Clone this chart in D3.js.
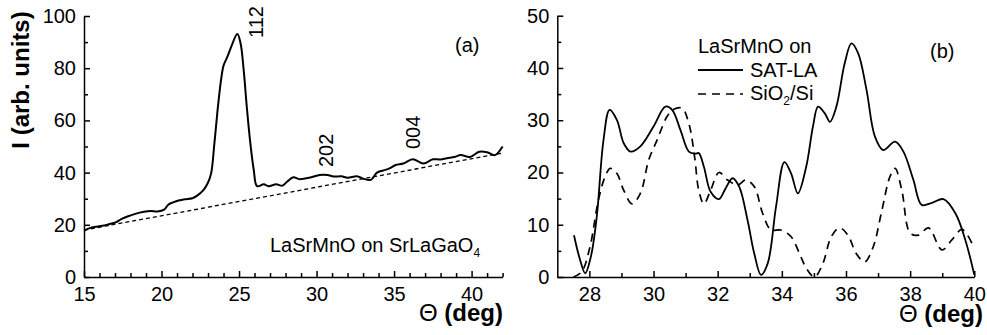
<!DOCTYPE html>
<html>
<head>
<meta charset="utf-8">
<script src="https://cdn.jsdelivr.net/npm/d3@7"></script>
<style>
  body { margin: 0; background: #fff; }
  svg { display: block; font-family: "Liberation Sans", Arial, sans-serif; }
  .axis path, .axis line { stroke: #000; stroke-width: 1.5; }
  .axis text { font-size: 20px; fill: #000; }
</style>
</head>
<body>
<svg id="chart" width="987" height="335"></svg>
<script>
// panel (a): LaSrMnO on SrLaGaO4
const thetaA = [15.0, 15.5, 16.18, 16.6, 17.04, 17.4, 17.8, 18.3, 18.87, 19.3, 19.74, 20.17, 20.45, 20.7, 21.1, 21.5,
  21.99, 22.3, 22.7, 22.98, 23.2, 23.41, 23.6, 23.84, 24.0, 24.25, 24.5, 24.89, 25.1, 25.3, 25.5, 25.73,
  25.95, 26.16, 26.6, 26.9, 27.4, 27.8, 28.1, 28.5, 28.9, 29.6, 30.2, 30.7, 31.1, 31.6, 32.0, 32.6,
  33.0, 33.5, 33.9, 34.3, 34.7, 35.1, 35.6, 36.2, 36.9, 37.5, 38.0, 38.4, 38.9, 39.3, 39.9, 40.5,
  41.0, 41.5, 42.0];
const intensA = [17.8, 19.0, 19.6, 20.2, 20.9, 22.2, 23.2, 24.2, 25.0, 25.3, 25.1, 25.8, 27.8, 28.5, 29.3, 29.8,
  30.2, 31.2, 33.3, 35.9, 39.7, 51.2, 63.0, 75.5, 81.0, 84.4, 88.3, 93.1, 89.5, 79.3, 65.2, 51.2,
  41.0, 34.8, 35.5, 34.8, 35.5, 35.0, 36.5, 38.2, 37.5, 38.1, 39.1, 39.1, 38.5, 38.6, 38.0, 38.6,
  37.7, 37.2, 40.0, 40.8, 41.6, 42.9, 43.5, 45.1, 43.5, 45.1, 45.0, 45.5, 46.0, 46.7, 46.0, 48.0,
  47.8, 46.7, 50.0];
// substrate background (dashed straight line)
const baseTheta = [15, 42];
const baseIntens = [18, 47.5];
const peakLabels = ["112", "202", "004"];

// panel (b): LaSrMnO on SAT-LA and on SiO2/Si
const thetaSat = [27.52, 27.7, 27.87, 28.05, 28.23, 28.44, 28.63, 28.86, 29.07, 29.28, 29.59, 30.0, 30.37, 30.58,
  30.84, 31.1, 31.3, 31.41, 31.57, 31.78, 32.04, 32.25, 32.46, 32.67, 32.93, 33.14, 33.35, 33.56,
  33.82, 34.08, 34.29, 34.5, 34.76, 34.97, 35.13, 35.34, 35.5, 35.7, 35.96, 36.17, 36.38, 36.64,
  36.9, 37.16, 37.53, 37.79, 38.1, 38.36, 38.68, 39.04, 39.41, 39.72, 40.0];
const intensSat = [8.0, 3.5, 0.7, 4.0, 11.5, 26.2, 32.0, 30.0, 25.6, 24.0, 25.0, 28.8, 32.6, 32.0,
  28.1, 24.0, 23.6, 23.7, 21.1, 16.3, 14.9, 17.0, 18.9, 17.3, 10.9, 4.5, 0.4, 2.6,
  13.5, 22.0, 19.8, 16.0, 21.1, 28.8, 32.6, 31.3, 29.7, 32.6, 40.9, 44.7, 42.8, 35.8,
  26.9, 24.3, 25.9, 24.0, 18.6, 13.8, 14.2, 14.9, 12.2, 7.1, 0.4];
const thetaSi = [27.5, 27.76, 28.02, 28.28, 28.49, 28.65, 28.86, 29.07, 29.33, 29.59, 29.85, 30.11, 30.42, 30.6,
  30.89, 31.1, 31.28, 31.41, 31.57, 31.78, 32.04, 32.3, 32.62, 32.88, 33.14, 33.4, 33.66, 33.97,
  34.29, 34.55, 34.76, 35.02, 35.28, 35.54, 35.8, 36.06, 36.32, 36.58, 36.85, 37.1, 37.37, 37.53,
  37.74, 38.0, 38.26, 38.57, 38.99, 39.3, 39.62, 40.0];
const intensSi = [0.0, 1.0, 5.8, 14.7, 19.2, 20.8, 19.8, 16.6, 14.0, 16.0, 22.4, 26.2, 30.7, 32.0,
  32.3, 29.4, 23.0, 16.6, 14.0, 16.6, 20.0, 18.6, 17.6, 18.6, 17.3, 12.2, 9.0, 9.0,
  7.7, 4.5, 1.7, 0.0, 2.6, 7.7, 9.4, 8.0, 4.5, 2.9, 5.8, 12.2, 19.2, 20.8,
  16.6, 8.4, 8.0, 9.4, 5.2, 7.1, 9.1, 5.5];
const legendTitle = "LaSrMnO on";
const legendNames = ["SAT-LA", "SiO2/Si"];

const svg = d3.select("#chart");
const zip = (xs, ys) => xs.map((x, i) => [x, ys[i]]);

function drawAxes(x, y, xMajor, xMinor, yMajor, yMinor) {
  const yAx = svg.append("g").attr("class", "axis").attr("transform", `translate(${x.range()[0]},0)`);
  yAx.call(d3.axisLeft(y).tickValues(yMinor).tickSize(-4).tickFormat(""));
  yAx.call(g => g.append("g").call(d3.axisLeft(y).tickValues(yMajor).tickSize(-6).tickPadding(8)));
  const xAx = svg.append("g").attr("class", "axis").attr("transform", `translate(0,${y.range()[0]})`);
  xAx.call(d3.axisBottom(x).tickValues(xMinor).tickSize(-4).tickFormat(""));
  xAx.call(g => g.append("g").call(d3.axisBottom(x).tickValues(xMajor).tickSize(-6).tickPadding(10)));
  svg.selectAll(".axis path.domain").attr("d", function() { return d3.select(this).attr("d").replace(/V-?\d+(\.\d+)?/g, ""); });
  svg.selectAll(".axis .domain").each(function() {
    const p = d3.select(this);
    p.attr("d", p.attr("d").replace(/^M([-\d.]+),([-\d.]+)H/, "M$1,0H"));
  });
}

function thetaLabel(xRight, yBase) {
  const t = svg.append("text").attr("x", xRight).attr("y", yBase)
    .attr("text-anchor", "end").attr("font-size", 24);
  t.append("tspan").text("Θ ");
  t.append("tspan").attr("font-weight", "bold").text("(deg)");
}

// ---------- panel (a)
const xA = d3.scaleLinear().domain([15, 42]).range([84, 502.6]);
const yA = d3.scaleLinear().domain([0, 100]).range([277, 16]);

svg.append("g").attr("class", "axis").attr("transform", "translate(84,0)")
  .call(d3.axisLeft(yA).tickValues(d3.range(10, 100, 20)).tickSize(-4).tickFormat(""))
  .call(g => g.select(".domain").remove());
svg.append("g").attr("class", "axis").attr("transform", "translate(84,0)")
  .call(d3.axisLeft(yA).tickValues(d3.range(0, 101, 20)).tickSize(-6).tickSizeOuter(0).tickPadding(8));
svg.append("g").attr("class", "axis").attr("transform", "translate(0,277)")
  .call(d3.axisBottom(xA).tickValues(d3.range(15, 43, 1).filter(v => v % 5)).tickSize(-4).tickFormat(""))
  .call(g => g.select(".domain").remove());
svg.append("g").attr("class", "axis").attr("transform", "translate(0,277)")
  .call(d3.axisBottom(xA).tickValues(d3.range(15, 41, 5)).tickSize(-6).tickSizeOuter(0).tickPadding(10));

svg.append("path")
  .attr("d", d3.line().x(d => xA(d[0])).y(d => yA(d[1]))(zip(baseTheta, baseIntens)))
  .attr("fill", "none").attr("stroke", "#000").attr("stroke-width", 1.3).attr("stroke-dasharray", "4,3");
svg.append("path")
  .attr("d", d3.line().curve(d3.curveCatmullRom.alpha(0.5)).x(d => xA(d[0])).y(d => yA(d[1]))(zip(thetaA, intensA)))
  .attr("fill", "none").attr("stroke", "#000").attr("stroke-width", 2);

const labelPos = [[263, 38], [333, 167], [420, 149]];
peakLabels.forEach((s, i) => {
  svg.append("text").attr("transform", `translate(${labelPos[i][0]},${labelPos[i][1]}) rotate(-90)`)
    .attr("font-size", 20).text(s);
});

svg.append("text").attr("x", 455).attr("y", 52).attr("font-size", 20).text("(a)");
const subA = svg.append("text").attr("x", 270).attr("y", 252).attr("font-size", 20);
subA.append("tspan").text("LaSrMnO on SrLaGaO");
subA.append("tspan").attr("font-size", 12).attr("dy", 5).text("4");

svg.append("text").attr("transform", "translate(29,80) rotate(-90)")
  .attr("text-anchor", "middle").attr("font-size", 24).attr("font-weight", "bold").text("I (arb. units)");
thetaLabel(503, 321);

// ---------- panel (b)
const xB = d3.scaleLinear().domain([27, 40]).range([557.3, 974.3]);
const yB = d3.scaleLinear().domain([0, 50]).range([277, 15.7]);

svg.append("g").attr("class", "axis").attr("transform", "translate(557.3,0)")
  .call(d3.axisLeft(yB).tickValues(d3.range(5, 50, 10)).tickSize(-4).tickFormat(""))
  .call(g => g.select(".domain").remove());
svg.append("g").attr("class", "axis").attr("transform", "translate(557.3,0)")
  .call(d3.axisLeft(yB).tickValues(d3.range(0, 51, 10)).tickSize(-6).tickSizeOuter(0).tickPadding(8));
svg.append("g").attr("class", "axis").attr("transform", "translate(0,277)")
  .call(d3.axisBottom(xB).tickValues(d3.range(29, 40, 2)).tickSize(-4).tickFormat(""))
  .call(g => g.select(".domain").remove());
svg.append("g").attr("class", "axis").attr("transform", "translate(0,277)")
  .call(d3.axisBottom(xB).tickValues(d3.range(28, 41, 2)).tickSize(-6).tickSizeOuter(0).tickPadding(10));

const lineB = d3.line().curve(d3.curveCatmullRom.alpha(0.5)).x(d => xB(d[0])).y(d => yB(d[1]));
svg.append("path").attr("d", lineB(zip(thetaSi, intensSi)))
  .attr("fill", "none").attr("stroke", "#000").attr("stroke-width", 1.7).attr("stroke-dasharray", "8,6");
svg.append("path").attr("d", lineB(zip(thetaSat, intensSat)))
  .attr("fill", "none").attr("stroke", "#000").attr("stroke-width", 1.8);

svg.append("text").attr("x", 930).attr("y", 58).attr("font-size", 20).text("(b)");
svg.append("text").attr("x", 698).attr("y", 53).attr("font-size", 20).text(legendTitle);
svg.append("line").attr("x1", 698).attr("x2", 743).attr("y1", 70).attr("y2", 70)
  .attr("stroke", "#000").attr("stroke-width", 1.8);
svg.append("text").attr("x", 750).attr("y", 77).attr("font-size", 20).text(legendNames[0]);
svg.append("line").attr("x1", 698).attr("x2", 743).attr("y1", 94).attr("y2", 94)
  .attr("stroke", "#000").attr("stroke-width", 1.7).attr("stroke-dasharray", "8,6");
const leg2 = svg.append("text").attr("x", 750).attr("y", 100).attr("font-size", 20);
leg2.append("tspan").text("SiO");
leg2.append("tspan").attr("font-size", 12).attr("dy", 5).text("2");
leg2.append("tspan").attr("dy", -5).text("/Si");

thetaLabel(983, 322);
</script>
</body>
</html>
